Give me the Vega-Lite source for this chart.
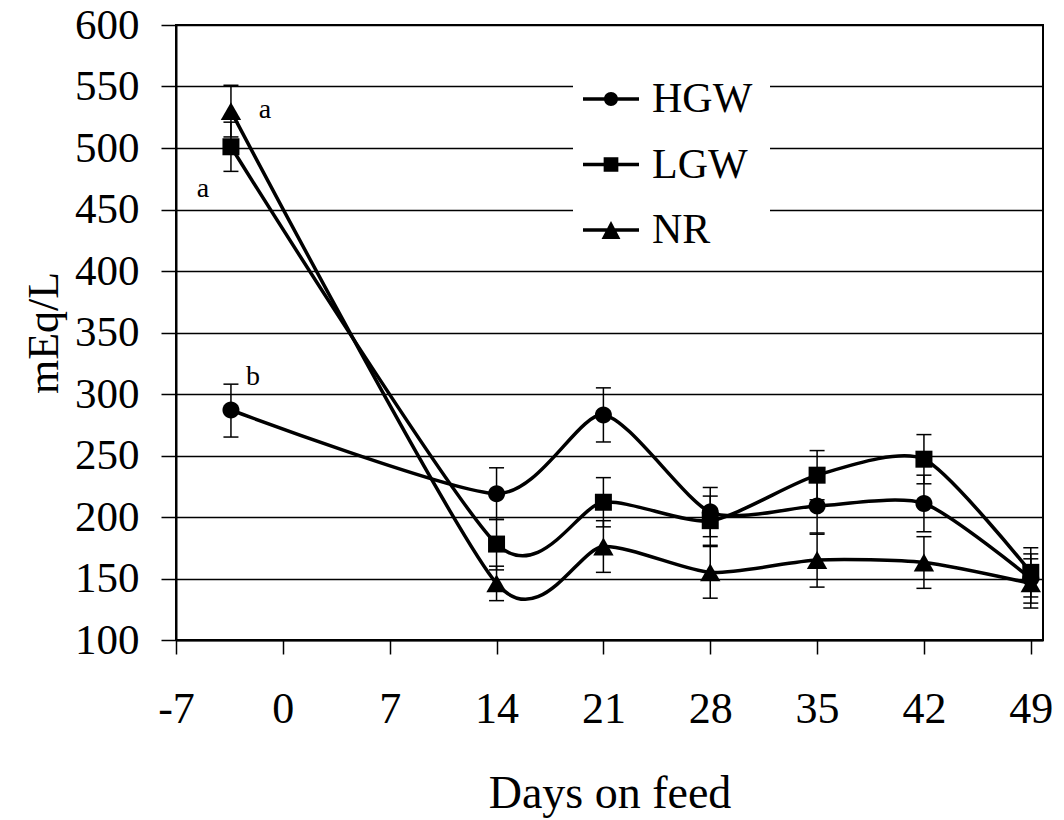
{
  "$schema": "https://vega.github.io/schema/vega-lite/v6.json",
  "width": 867,
  "height": 615,
  "autosize": {"type": "none"},
  "padding": {"left": 176, "top": 25, "right": 21, "bottom": 180},
  "background": "white",
  "config": {
    "view": {"stroke": "black", "strokeWidth": 2},
    "font": "Liberation Serif",
    "text": {"font": "Liberation Serif"}
  },
  "resolve": {"scale": {"shape": "independent"}},
  "datasets": {
    "pts": [
      {"series": "HGW", "day": -3.4, "value": 287, "lo": 265, "hi": 308},
      {"series": "HGW", "day": 14, "value": 219, "lo": 198, "hi": 240},
      {"series": "HGW", "day": 21, "value": 283, "lo": 261, "hi": 305},
      {"series": "HGW", "day": 28, "value": 204, "lo": 184, "hi": 224},
      {"series": "HGW", "day": 35, "value": 209, "lo": 186, "hi": 232},
      {"series": "HGW", "day": 42, "value": 211, "lo": 188, "hi": 234},
      {"series": "HGW", "day": 49, "value": 150, "lo": 130, "hi": 170},
      {"series": "LGW", "day": -3.4, "value": 501, "lo": 481, "hi": 521},
      {"series": "LGW", "day": 14, "value": 178, "lo": 157, "hi": 198},
      {"series": "LGW", "day": 21, "value": 212, "lo": 192, "hi": 232},
      {"series": "LGW", "day": 28, "value": 197, "lo": 177, "hi": 217},
      {"series": "LGW", "day": 35, "value": 234, "lo": 214, "hi": 254},
      {"series": "LGW", "day": 42, "value": 247, "lo": 227, "hi": 267},
      {"series": "LGW", "day": 49, "value": 155, "lo": 135, "hi": 175},
      {"series": "NR", "day": -3.4, "value": 530, "lo": 509, "hi": 551},
      {"series": "NR", "day": 14, "value": 146, "lo": 132, "hi": 160},
      {"series": "NR", "day": 21, "value": 176, "lo": 155, "hi": 197},
      {"series": "NR", "day": 28, "value": 155, "lo": 134, "hi": 176},
      {"series": "NR", "day": 35, "value": 165, "lo": 143, "hi": 187},
      {"series": "NR", "day": 42, "value": 163, "lo": 142, "hi": 184},
      {"series": "NR", "day": 49, "value": 146, "lo": 126, "hi": 166}
    ],
    "notes": [
      {"day": -1.17, "value": 531, "label": "a"},
      {"day": -5.23, "value": 467, "label": "a"},
      {"day": -1.95, "value": 314, "label": "b"}
    ]
  },
  "encoding": {
    "x": {
      "field": "day",
      "type": "quantitative",
      "scale": {"domain": [-7, 49.8], "nice": false, "zero": false},
      "axis": {
        "values": [-7, 0, 7, 14, 21, 28, 35, 42, 49],
        "labelExpr": "'' + datum.value",
        "title": "Days on feed",
        "grid": false,
        "labelFlush": false,
        "labelOverlap": false,
        "domainColor": "black",
        "domainWidth": 2,
        "tickColor": "black",
        "tickWidth": 1.5,
        "tickSize": 14,
        "labelFont": "Liberation Serif",
        "labelFontSize": 44,
        "labelColor": "black",
        "labelPadding": 33,
        "titleFont": "Liberation Serif",
        "titleFontSize": 46,
        "titleFontWeight": "normal",
        "titleColor": "black",
        "titlePadding": 40
      }
    }
  },
  "layer": [
    {
      "data": {"name": "pts"},
      "mark": {"type": "line", "interpolate": "cardinal", "tension": 0.3, "color": "black", "strokeWidth": 3.5},
      "encoding": {
        "y": {
          "field": "value",
          "type": "quantitative",
          "title": "mEq/L",
          "scale": {"domain": [100, 600], "nice": false, "zero": false},
          "axis": {
            "values": [100, 150, 200, 250, 300, 350, 400, 450, 500, 550, 600],
            "grid": true,
            "gridColor": "black",
            "gridWidth": 1.5,
            "gridOpacity": 1,
            "domainColor": "black",
            "domainWidth": 2,
            "tickColor": "black",
            "tickWidth": 1.5,
            "tickSize": 15,
            "labelFont": "Liberation Serif",
            "labelFontSize": 43,
            "labelColor": "black",
            "labelPadding": 22,
            "labelOverlap": false,
            "labelFlush": false,
            "titleFont": "Liberation Serif",
            "titleFontSize": 44,
            "titleFontWeight": "normal",
            "titleColor": "black",
            "titlePadding": 8
          }
        },
        "detail": {"field": "series"}
      }
    },
    {
      "data": {"name": "pts"},
      "mark": {"type": "rule", "color": "black", "strokeWidth": 1.5},
      "encoding": {
        "y": {"field": "lo", "type": "quantitative", "title": "mEq/L"},
        "y2": {"field": "hi"}
      }
    },
    {
      "data": {"name": "pts"},
      "mark": {"type": "tick", "orient": "horizontal", "color": "black", "size": 15, "thickness": 1.5, "opacity": 1},
      "encoding": {
        "y": {"field": "lo", "type": "quantitative", "title": "mEq/L"}
      }
    },
    {
      "data": {"name": "pts"},
      "mark": {"type": "tick", "orient": "horizontal", "color": "black", "size": 15, "thickness": 1.5, "opacity": 1},
      "encoding": {
        "y": {"field": "hi", "type": "quantitative", "title": "mEq/L"}
      }
    },
    {
      "data": {"name": "pts"},
      "mark": {"type": "point", "filled": true, "color": "black", "opacity": 1, "size": 289, "strokeWidth": 0},
      "encoding": {
        "y": {"field": "value", "type": "quantitative", "title": "mEq/L"},
        "shape": {
          "field": "series",
          "type": "nominal",
          "scale": {
            "domain": ["HGW", "LGW", "NR"],
            "range": [
              "M1,0A1,1,0,1,1,-1,0A1,1,0,1,1,1,0Z",
              "M-1,-1L1,-1L1,1L-1,1Z",
              "M0,-1.05L1.2,1.05L-1.2,1.05Z"
            ]
          },
          "legend": null
        }
      }
    },
    {
      "data": {"name": "pts"},
      "transform": [{"filter": "datum.day > 1000"}],
      "mark": {"type": "point", "filled": true, "color": "black", "opacity": 1},
      "encoding": {
        "y": {"field": "value", "type": "quantitative", "title": "mEq/L"},
        "shape": {
          "field": "series",
          "type": "nominal",
          "scale": {
            "domain": ["HGW", "LGW", "NR"],
            "range": [
              "M-4,-0.25L-0.9,-0.25L-0.9,0.25L-4,0.25ZM0.9,-0.25L4,-0.25L4,0.25L0.9,0.25ZM1,0A1,1,0,1,1,-1,0A1,1,0,1,1,1,0Z",
              "M-4,-0.25L-1,-0.25L-1,0.25L-4,0.25ZM1,-0.25L4,-0.25L4,0.25L1,0.25ZM-1.05,-1.05L1.05,-1.05L1.05,1.05L-1.05,1.05Z",
              "M-4,-0.25L4,-0.25L4,0.25L-4,0.25ZM0,-1.3L1.35,1.3L-1.35,1.3Z"
            ]
          },
          "legend": {
            "orient": "none",
            "legendX": 397,
            "legendY": 36,
            "title": null,
            "fillColor": "white",
            "padding": 17,
            "labelFont": "Liberation Serif",
            "labelFontSize": 42,
            "labelColor": "black",
            "symbolSize": 196,
            "labelOffset": 20,
            "rowPadding": 23.5,
            "symbolStrokeWidth": 0,
            "symbolFillColor": "black",
            "symbolOpacity": 1
          }
        }
      }
    },
    {
      "data": {"name": "notes"},
      "mark": {"type": "text", "font": "Liberation Serif", "fontSize": 28, "color": "black", "align": "center", "baseline": "middle"},
      "encoding": {
        "y": {"field": "value", "type": "quantitative", "title": "mEq/L"},
        "text": {"field": "label"}
      }
    }
  ]
}
